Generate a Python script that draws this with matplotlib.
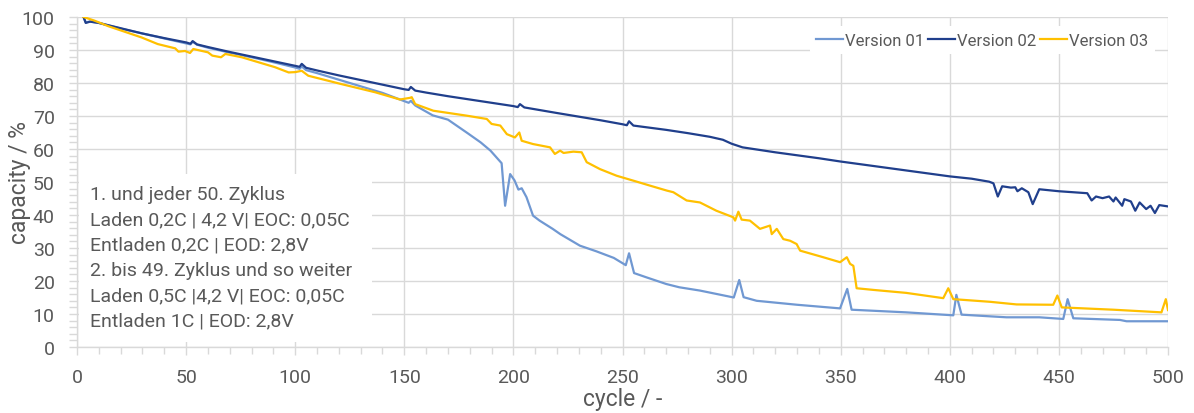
import matplotlib
matplotlib.use("Agg")
import matplotlib.pyplot as plt
from matplotlib.patches import Rectangle
from matplotlib.ticker import MultipleLocator

plt.rcParams['font.family'] = ['Roboto', 'DejaVu Sans']

# ---------------- data ----------------
v01_x = [3, 4, 6, 10, 20, 30, 40, 50, 52, 53, 55, 60, 70, 80, 90, 100, 102, 103, 105, 110,
         120, 130, 140, 148, 152, 153, 155, 163, 170, 179, 185, 189.5, 194.6, 196.2, 198.5,
         200.5, 202.3, 203.8, 206, 209, 212, 218, 221.5, 230.5, 238, 246, 251.5, 253, 255.3,
         261, 270, 276, 285.5, 301, 303.5, 305.5, 311.5, 330, 349.7, 353, 355, 380, 401.6,
         403, 405.4, 426, 441, 452, 454, 456.6, 478, 481, 500]
v01_y = [100, 98.4, 98.6, 98.2, 96.5, 95.0, 93.5, 92.0, 91.7, 92.5, 91.6, 90.7, 89.2, 87.8,
         86.3, 84.7, 84.3, 85.0, 83.9, 83.0, 81.0, 79.0, 77.0, 75.0, 74.0, 74.6, 73.2, 70.2,
         68.9, 64.8, 62.0, 59.5, 55.7, 42.8, 52.4, 50.5, 47.7, 48.1, 45.4, 39.8, 38.3, 35.8,
         34.2, 30.7, 29.0, 27.0, 24.8, 28.4, 22.4, 21.1, 19.1, 18.1, 17.1, 15.0, 20.3, 15.1,
         14.0, 12.8, 11.7, 17.6, 11.3, 10.5, 9.6, 15.8, 9.8, 9.0, 9.0, 8.5, 14.5, 8.7, 8.2,
         7.8, 7.8]

v02_x = [3, 4, 6, 10, 20, 30, 40, 50, 52, 53, 55, 60, 70, 80, 90, 100, 102, 103, 105, 110,
         120, 130, 140, 150, 152, 153, 155, 160, 170, 180, 190, 200, 202, 203, 205, 220, 230,
         240, 250, 252, 253, 255, 270, 280, 290, 296, 300, 305, 320, 340, 350, 360, 380, 400,
         410, 418, 420, 422, 424, 428, 430, 431, 433, 436, 438, 441, 450, 463, 465, 467, 470,
         473, 475, 476, 479, 480, 483, 485, 487, 490, 492, 494, 496, 500]
v02_y = [100, 98.2, 98.6, 98.2, 96.6, 95.0, 93.6, 92.3, 91.9, 92.7, 91.7, 90.9, 89.4, 88.0,
         86.6, 85.2, 84.9, 85.8, 84.6, 83.8, 82.3, 80.9, 79.5, 78.1, 77.9, 78.8, 77.7, 77.1,
         76.0, 75.0, 74.0, 73.0, 72.7, 73.6, 72.6, 70.9, 69.8, 68.7, 67.5, 67.2, 68.4, 67.1,
         65.8, 64.8, 63.7, 62.8, 61.6, 60.5, 59.0, 57.2, 56.2, 55.3, 53.5, 51.7, 51.0, 50.1,
         49.6, 45.6, 48.7, 48.3, 48.4, 47.2, 48.1, 46.9, 43.3, 47.8, 47.2, 46.6, 44.4, 45.6,
         45.1, 45.6, 44.1, 45.3, 42.8, 44.8, 44.1, 41.3, 43.8, 41.8, 42.8, 40.6, 43.0, 42.6]

v03_x = [3, 8, 14.4, 29.6, 37, 45, 46.5, 49.5, 51.8, 53.3, 60, 62, 66, 68, 75.5, 90.7, 97,
         100, 103, 106, 121, 136.6, 148, 152.6, 153.4, 155, 163.3, 178.6, 187.8, 190, 194,
         197, 200.7, 202.7, 203.8, 209, 216.8, 219, 221.4, 223, 227.5, 231.3, 233.6, 239.7,
         247.3, 255, 262.6, 270.3, 273.3, 279.4, 285.5, 293, 300.8, 301.6, 303.1, 304.6,
         308.4, 313, 317.6, 318.4, 320.7, 323.7, 326.8, 329.8, 331.4, 342, 349.7, 352.8,
         354.3, 355.8, 357.3, 365, 380, 397, 399.3, 401.6, 418.4, 430.6, 447.4, 449.3, 451.3,
         475, 497, 499, 500]
v03_y = [100, 98.9, 97.2, 93.8, 91.8, 90.5, 89.5, 89.7, 89.1, 90.3, 89.3, 88.3, 87.8, 88.8,
         87.8, 84.8, 83.2, 83.3, 83.7, 82.2, 79.7, 77.2, 75.0, 75.5, 75.7, 73.6, 71.6, 70.1,
         69.1, 67.6, 67.1, 64.5, 63.5, 65.0, 62.5, 61.5, 60.5, 58.5, 59.5, 58.8, 59.2, 59.0,
         56.0, 53.9, 51.9, 50.4, 48.9, 47.4, 46.9, 44.4, 43.8, 41.3, 39.3, 38.3, 41.0, 38.6,
         38.3, 35.8, 36.8, 34.2, 35.8, 32.7, 32.2, 31.2, 29.2, 27.2, 25.7, 27.2, 25.2, 24.6,
         17.8, 17.3, 16.4, 14.8, 17.8, 14.5, 13.7, 12.9, 12.8, 15.6, 12.0, 11.3, 10.5, 14.5,
         11.2]

series_names = ["Version 01", "Version 02", "Version 03"]
series_colors = ["#7098D2", "#203F8C", "#FFC000"]

note_lines = [
    "1. und jeder 50. Zyklus",
    "Laden 0,2C | 4,2 V| EOC: 0,05C",
    "Entladen 0,2C | EOD: 2,8V",
    "2. bis 49. Zyklus und so weiter",
    "Laden 0,5C |4,2 V| EOC: 0,05C",
    "Entladen 1C | EOD: 2,8V",
]

x_label = "cycle / -"
y_label = "capacity / %"

# ---------------- figure ----------------
text_col = "#595959"
grid_col = "#D9D9D9"

fig = plt.figure(figsize=(11.94, 4.14), dpi=100)
ax = fig.add_axes([77 / 1194, 1 - 348 / 414, (1168 - 77) / 1194, (348 - 18) / 414])

for xs, ys, name, col, z in zip([v01_x, v02_x, v03_x], [v01_y, v02_y, v03_y],
                               series_names, series_colors, [3, 4, 5]):
    ax.plot(xs, ys, color=col, lw=1.6, label=name, zorder=z, solid_joinstyle="round")

ax.set_xlim(0, 500)
ax.set_ylim(0, 100)
ax.xaxis.set_major_locator(MultipleLocator(50))
ax.xaxis.set_minor_locator(MultipleLocator(10))
ax.yaxis.set_major_locator(MultipleLocator(10))
ax.yaxis.set_minor_locator(MultipleLocator(2))

ax.set_axisbelow(True)
ax.grid(True, which="major", color=grid_col, lw=1.0)
for s in ["top", "right"]:
    ax.spines[s].set_visible(False)
for s in ["left", "bottom"]:
    ax.spines[s].set_color(grid_col)
    ax.spines[s].set_linewidth(1.0)

ax.tick_params(axis="both", which="both", color=grid_col, labelcolor=text_col, width=1.0)
ax.tick_params(axis="y", which="major", length=6, pad=10, labelsize=14)
ax.tick_params(axis="y", which="minor", length=6)
ax.tick_params(axis="x", which="major", length=6, pad=9, labelsize=14)
ax.tick_params(axis="x", which="minor", length=5)

ax.set_xlabel(x_label, fontsize=16.5, color=text_col)
ax.set_ylabel(y_label, fontsize=16.5, color=text_col)
ax.xaxis.set_label_coords(0.5, -(400 - 348) / 330)
ax.yaxis.set_label_coords(-(77 - 20) / 1091, 0.5)
ax.xaxis.label.set_va("center")
ax.yaxis.label.set_va("center")

# white box behind the note
ax.add_patch(Rectangle((0.002, 0.015), 0.268, 0.51, transform=ax.transAxes,
                       facecolor="white", edgecolor="none", zorder=1))
y0 = (348 - 195) / 330
dy = 25.3 / 330
for i, line in enumerate(note_lines):
    ax.text((90 - 77) / 1091, y0 - i * dy, line, transform=ax.transAxes,
            fontsize=14, color=text_col, va="center", ha="left", zorder=2)

leg = ax.legend(loc="center right", bbox_to_anchor=(0.988, 0.93), ncol=3, frameon=True,
                fontsize=12, handlelength=1.6, handletextpad=0.12, columnspacing=0.25,
                borderpad=0.4, borderaxespad=0)
leg.get_frame().set_facecolor("white")
leg.get_frame().set_edgecolor("none")
leg.get_frame().set_alpha(1)
for t in leg.get_texts():
    t.set_color(text_col)

fig.savefig("out.png", dpi=100)
